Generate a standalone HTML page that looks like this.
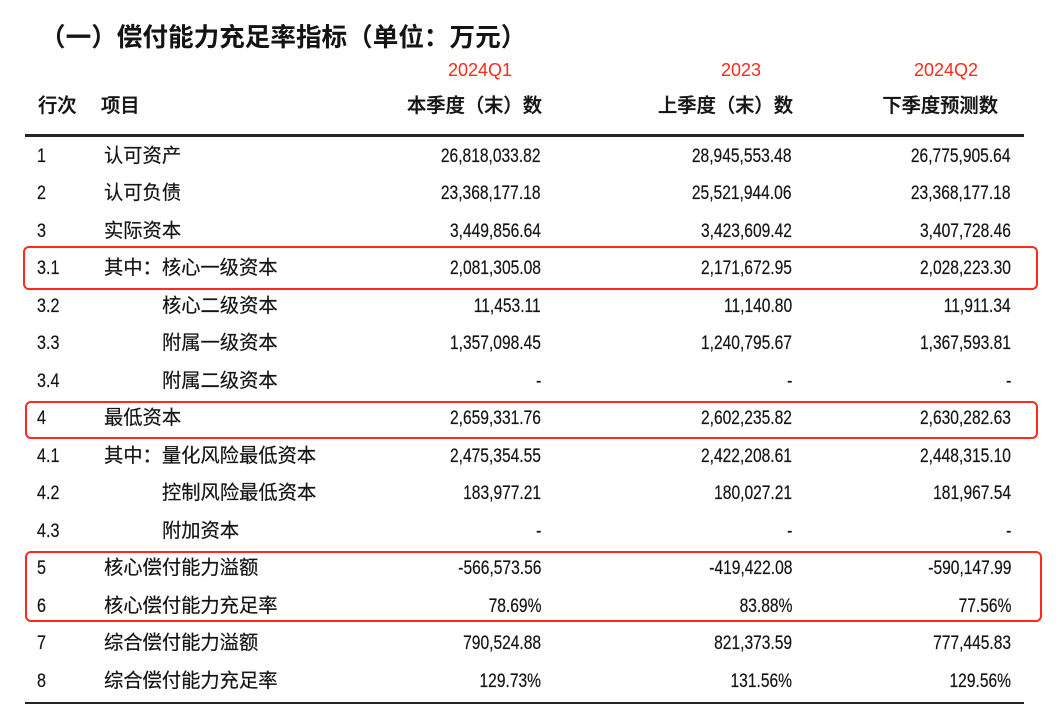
<!DOCTYPE html>
<html>
<head>
<meta charset="utf-8">
<style>
  html, body { margin:0; padding:0; background:#fff; }
  body { width:1060px; height:720px; position:relative; overflow:hidden;
         font-family:"Liberation Sans","Noto Sans CJK SC",sans-serif; color:#141414; }
  .abs { position:absolute; white-space:nowrap; }
  .title { left:40px; top:23px; font-size:25.6px; line-height:30px; font-weight:bold; color:#141414; }
  .red { font-size:18px; line-height:24px; color:#ff2a1a; width:200px; text-align:center; top:58px; }
  .hdr { font-size:19.3px; line-height:24px; top:95px; font-weight:500; color:#141414; -webkit-text-stroke:0.35px #141414; }
  .rule { position:absolute; left:25px; width:999px; background:#262626; }
  .row { position:absolute; left:0; width:1060px; height:24px; line-height:24px; font-size:19.3px; -webkit-text-stroke:0.2px #141414; }
  .no { position:absolute; left:37px; top:0; font-size:19px; }
  .no span { display:inline-block; transform:scaleX(0.85); transform-origin:left center; }
  .it { position:absolute; top:0; }
  .n { position:absolute; top:0; font-size:19px; text-align:right; }
  .n span { display:inline-block; transform:scaleX(0.82); transform-origin:right center; }
  .c1 { right:519px; } .c2 { right:268px; } .c3 { right:49px; }
  .box { position:absolute; border:2px solid #ff2a1a; border-radius:6px; box-sizing:border-box; }
</style>
</head>
<body>
<div class="abs title">（一）偿付能力充足率指标（单位：万元）</div>

<div class="abs red" style="left:380px;">2024Q1</div>
<div class="abs red" style="left:641px;">2023</div>
<div class="abs red" style="left:846px;">2024Q2</div>

<div class="abs hdr" style="left:38px;">行次</div>
<div class="abs hdr" style="left:101px;">项目</div>
<div class="abs hdr" style="right:518px;">本季度（末）数</div>
<div class="abs hdr" style="right:267px;">上季度（末）数</div>
<div class="abs hdr" style="right:62px;">下季度预测数</div>

<div class="rule" style="top:134px;height:3px;"></div>

<div class="row" style="top:144.5px;"><div class="no"><span>1</span></div><div class="it" style="left:104px;">认可资产</div><div class="n c1"><span>26,818,033.82</span></div><div class="n c2"><span>28,945,553.48</span></div><div class="n c3"><span>26,775,905.64</span></div></div>
<div class="row" style="top:182px;"><div class="no"><span>2</span></div><div class="it" style="left:104px;">认可负债</div><div class="n c1"><span>23,368,177.18</span></div><div class="n c2"><span>25,521,944.06</span></div><div class="n c3"><span>23,368,177.18</span></div></div>
<div class="row" style="top:219.5px;"><div class="no"><span>3</span></div><div class="it" style="left:104px;">实际资本</div><div class="n c1"><span>3,449,856.64</span></div><div class="n c2"><span>3,423,609.42</span></div><div class="n c3"><span>3,407,728.46</span></div></div>
<div class="row" style="top:257px;"><div class="no"><span>3.1</span></div><div class="it" style="left:104px;">其中：核心一级资本</div><div class="n c1"><span>2,081,305.08</span></div><div class="n c2"><span>2,171,672.95</span></div><div class="n c3"><span>2,028,223.30</span></div></div>
<div class="row" style="top:294.5px;"><div class="no"><span>3.2</span></div><div class="it" style="left:162px;">核心二级资本</div><div class="n c1"><span>11,453.11</span></div><div class="n c2"><span>11,140.80</span></div><div class="n c3"><span>11,911.34</span></div></div>
<div class="row" style="top:332px;"><div class="no"><span>3.3</span></div><div class="it" style="left:162px;">附属一级资本</div><div class="n c1"><span>1,357,098.45</span></div><div class="n c2"><span>1,240,795.67</span></div><div class="n c3"><span>1,367,593.81</span></div></div>
<div class="row" style="top:369.5px;"><div class="no"><span>3.4</span></div><div class="it" style="left:162px;">附属二级资本</div><div class="n c1"><span>-</span></div><div class="n c2"><span>-</span></div><div class="n c3"><span>-</span></div></div>
<div class="row" style="top:407px;"><div class="no"><span>4</span></div><div class="it" style="left:104px;">最低资本</div><div class="n c1"><span>2,659,331.76</span></div><div class="n c2"><span>2,602,235.82</span></div><div class="n c3"><span>2,630,282.63</span></div></div>
<div class="row" style="top:444.5px;"><div class="no"><span>4.1</span></div><div class="it" style="left:104px;">其中：量化风险最低资本</div><div class="n c1"><span>2,475,354.55</span></div><div class="n c2"><span>2,422,208.61</span></div><div class="n c3"><span>2,448,315.10</span></div></div>
<div class="row" style="top:482px;"><div class="no"><span>4.2</span></div><div class="it" style="left:162px;">控制风险最低资本</div><div class="n c1"><span>183,977.21</span></div><div class="n c2"><span>180,027.21</span></div><div class="n c3"><span>181,967.54</span></div></div>
<div class="row" style="top:519.5px;"><div class="no"><span>4.3</span></div><div class="it" style="left:162px;">附加资本</div><div class="n c1"><span>-</span></div><div class="n c2"><span>-</span></div><div class="n c3"><span>-</span></div></div>
<div class="row" style="top:557px;"><div class="no"><span>5</span></div><div class="it" style="left:104px;">核心偿付能力溢额</div><div class="n c1"><span>-566,573.56</span></div><div class="n c2"><span>-419,422.08</span></div><div class="n c3"><span>-590,147.99</span></div></div>
<div class="row" style="top:594.5px;"><div class="no"><span>6</span></div><div class="it" style="left:104px;">核心偿付能力充足率</div><div class="n c1"><span>78.69%</span></div><div class="n c2"><span>83.88%</span></div><div class="n c3"><span>77.56%</span></div></div>
<div class="row" style="top:632px;"><div class="no"><span>7</span></div><div class="it" style="left:104px;">综合偿付能力溢额</div><div class="n c1"><span>790,524.88</span></div><div class="n c2"><span>821,373.59</span></div><div class="n c3"><span>777,445.83</span></div></div>
<div class="row" style="top:669.5px;"><div class="no"><span>8</span></div><div class="it" style="left:104px;">综合偿付能力充足率</div><div class="n c1"><span>129.73%</span></div><div class="n c2"><span>131.56%</span></div><div class="n c3"><span>129.56%</span></div></div>

<div class="rule" style="top:702px;height:2px;"></div>

<div class="box" style="left:23px;top:246px;width:1015px;height:44px;"></div>
<div class="box" style="left:25px;top:401px;width:1013px;height:38px;"></div>
<div class="box" style="left:25px;top:551px;width:1017px;height:71px;"></div>
</body>
</html>
